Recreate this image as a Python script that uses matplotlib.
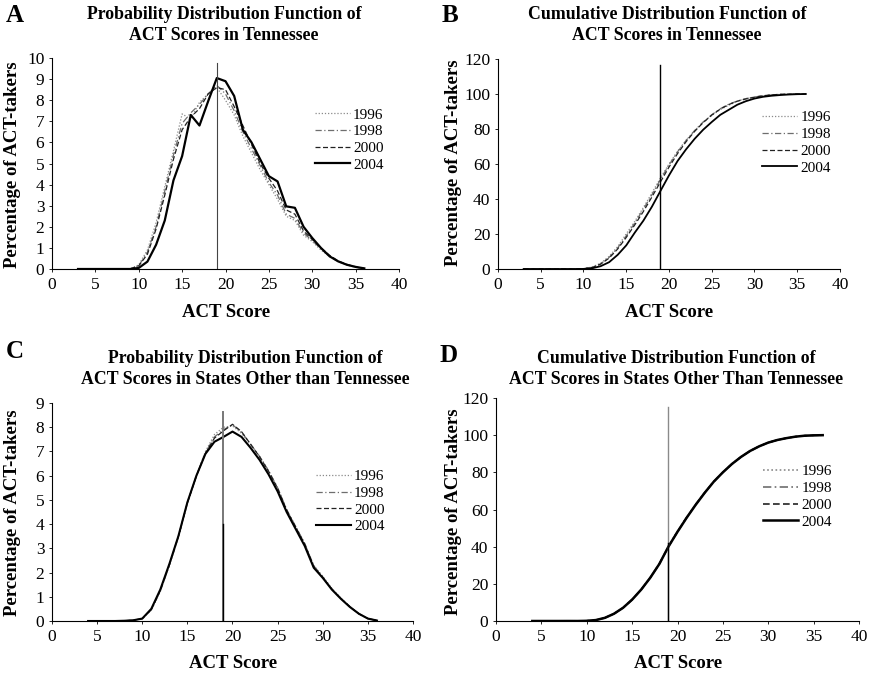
import numpy as np
import matplotlib
matplotlib.use("Agg")
import matplotlib.pyplot as plt

plt.rcParams['font.family'] = ['Liberation Serif', 'DejaVu Serif']

W, H = 870, 677
years = ["1996", "1998", "2000", "2004"]

# Panel A: PDF Tennessee (x = 3..36)
x_tn = list(range(3, 37))
zeros7 = [0] * 7
pdf_tn = {
    "1996": zeros7 + [0.2, 0.9, 2.2, 3.9, 5.6, 7.35, 7.1, 7.9, 8.3, 8.6, 8.0, 7.3, 6.3, 5.5,
                      4.7, 4.0, 3.3, 2.5, 2.3, 1.6, 1.3, 0.9, 0.6, 0.35, 0.2, 0.08, 0.02],
    "1998": zeros7 + [0.15, 0.8, 2.0, 3.7, 5.4, 6.9, 7.4, 7.8, 8.3, 8.7, 8.3, 7.5, 6.5, 5.7,
                      4.9, 4.1, 3.5, 2.6, 2.4, 1.7, 1.35, 0.95, 0.6, 0.35, 0.2, 0.08, 0.02],
    "2000": zeros7 + [0.15, 0.7, 1.9, 3.5, 5.2, 6.6, 7.2, 7.6, 8.3, 8.6, 8.5, 7.7, 6.8, 5.9,
                      5.0, 4.3, 3.7, 2.8, 2.6, 1.8, 1.4, 1.0, 0.65, 0.38, 0.22, 0.1, 0.03],
    "2004": zeros7 + [0.05, 0.35, 1.15, 2.3, 4.2, 5.35, 7.3, 6.8, 7.95, 9.05, 8.9, 8.2, 6.6, 6.0,
                      5.2, 4.4, 4.15, 2.97, 2.9, 2.0, 1.47, 1.0, 0.6, 0.36, 0.2, 0.1, 0.03],
}

# Panel B: CDF Tennessee
cdf_tn = {
    "1996": zeros7 + [0.2, 1.1, 3.3, 7.2, 12.8, 20.1, 27.2, 35.1, 43.4, 52.0, 60.0, 67.3, 73.6, 79.1,
                      83.8, 87.8, 91.1, 93.6, 95.9, 97.5, 98.0, 98.9, 99.5, 99.8, 99.9, 100, 100],
    "1998": zeros7 + [0.15, 0.95, 2.95, 6.65, 12.05, 18.95, 26.35, 34.15, 42.45, 51.15, 59.45, 66.95,
                      73.45, 79.15, 84.05, 88.15, 91.6, 94.2, 96.0, 97.3, 98.3, 99.0, 99.5, 99.8,
                      99.9, 100, 100],
    "2000": zeros7 + [0.15, 0.85, 2.75, 6.25, 11.45, 18.05, 25.25, 32.85, 41.15, 49.75, 58.25, 65.95,
                      72.75, 78.65, 83.65, 87.95, 91.4, 94.0, 95.9, 97.2, 98.2, 99.0, 99.5, 99.8,
                      99.9, 100, 100],
    "2004": zeros7 + [0.05, 0.4, 1.6, 3.9, 8.1, 13.5, 20.8, 27.6, 35.6, 44.6, 53.5, 61.7, 68.4, 74.4,
                      79.6, 84.0, 88.1, 91.0, 93.9, 95.9, 97.4, 98.4, 99.0, 99.4, 99.7, 99.9, 100],
}

# Panel C: PDF other states (x = 4..36)
x_ot = list(range(4, 37))
z5 = [0, 0, 0, 0, 0.01]
pdf_ot = {
    "1996": z5 + [0.03, 0.1, 0.45, 1.22, 2.28, 3.45, 4.85, 6.0, 7.0, 7.7, 8.0, 8.05, 7.75, 7.3,
                  6.8, 6.2, 5.5, 4.6, 3.9, 3.2, 2.3, 1.85, 1.35, 0.95, 0.6, 0.3, 0.1, 0.02],
    "1998": z5 + [0.03, 0.1, 0.46, 1.24, 2.3, 3.47, 4.87, 6.0, 6.95, 7.6, 7.9, 8.1, 7.8, 7.3,
                  6.8, 6.2, 5.5, 4.6, 3.9, 3.2, 2.28, 1.82, 1.33, 0.94, 0.6, 0.3, 0.1, 0.02],
    "2000": z5 + [0.03, 0.1, 0.47, 1.26, 2.32, 3.48, 4.88, 5.98, 6.92, 7.55, 7.85, 8.12, 7.82, 7.3,
                  6.78, 6.18, 5.48, 4.58, 3.88, 3.18, 2.25, 1.8, 1.32, 0.93, 0.59, 0.3, 0.1, 0.02],
    "2004": z5 + [0.03, 0.1, 0.5, 1.3, 2.35, 3.5, 4.9, 6.0, 6.9, 7.4, 7.6, 7.82, 7.6, 7.15,
                  6.65, 6.05, 5.35, 4.5, 3.8, 3.1, 2.2, 1.78, 1.3, 0.92, 0.58, 0.3, 0.1, 0.02],
}

# Panel D: CDF other states
cdf_ot = {
    "1996": z5 + [0.0, 0.1, 0.5, 1.7, 3.9, 7.1, 11.5, 16.9, 23.4, 30.9, 40.3, 48.3, 55.8, 62.8,
                  69.2, 75.1, 80.1, 84.5, 88.3, 91.5, 94.0, 96.0, 97.4, 98.4, 99.2, 99.7, 99.9, 100],
    "1998": z5 + [0.0, 0.1, 0.5, 1.7, 3.9, 7.1, 11.5, 16.9, 23.3, 30.8, 40.1, 48.2, 55.7, 62.7,
                  69.1, 75.0, 80.0, 84.5, 88.3, 91.5, 94.0, 96.0, 97.4, 98.4, 99.2, 99.7, 99.9, 100],
    "2000": z5 + [0.0, 0.1, 0.5, 1.7, 3.9, 7.1, 11.5, 16.9, 23.3, 30.7, 40.0, 48.0, 55.6, 62.6,
                  69.0, 75.0, 80.0, 84.5, 88.3, 91.5, 94.0, 96.0, 97.4, 98.4, 99.2, 99.7, 99.9, 100],
    "2004": z5 + [0.0, 0.1, 0.5, 1.7, 3.9, 7.1, 11.5, 16.9, 23.3, 30.7, 40.0, 48.0, 55.5, 62.5,
                  69.0, 75.0, 80.0, 84.5, 88.3, 91.5, 94.0, 96.0, 97.4, 98.4, 99.2, 99.7, 99.9, 100],
}

styles = {
    "1996": dict(color="#8a8a8a", linestyle=(0, (1, 1.5))),
    "1998": dict(color="#6e6e6e", linestyle=(0, (5, 2, 1, 2))),
    "2000": dict(color="#222222", linestyle=(0, (4, 2))),
    "2004": dict(color="black", linestyle="-"),
}


def px_axes(l, t, r, b):
    return fig.add_axes([l / W, 1 - b / H, (r - l) / W, (b - t) / H])


def ftext(x, y, s, **kw):
    fig.text(x / W, 1 - y / H, s, ha="center", va="center", **kw)


def setup(ax, ymax, yticks):
    ax.set_xlim(0, 40)
    ax.set_ylim(0, ymax)
    ax.set_xticks(range(0, 41, 5))
    ax.set_yticks(yticks)
    for s in ["top", "right"]:
        ax.spines[s].set_visible(False)
    ax.spines["left"].set_linewidth(0.8)
    ax.spines["bottom"].set_linewidth(0.8)
    ax.tick_params(direction="out", length=2.5, width=0.6, labelsize=12.5, pad=3)


def draw(ax, x, data, lw_solid, lw_other):
    for y in years:
        lw = lw_solid if y == "2004" else lw_other
        ax.plot(x, data[y], lw=lw, label=y, **styles[y])


lkw = dict(loc="upper left", frameon=False, fontsize=11, handlelength=2.3,
           handletextpad=0.2, labelspacing=0.2, borderpad=0)

fig = plt.figure(figsize=(W / 100, H / 100), dpi=100)

# A
axA = px_axes(52, 58, 399, 269)
setup(axA, 10, range(0, 11))
draw(axA, x_tn, pdf_tn, 1.6, 0.9)
axA.plot([19, 19], [0, 9.75], color="#444444", lw=0.8)
axA.legend(bbox_to_anchor=(0.735, 0.80), **lkw)

# B
axB = px_axes(498, 59, 840, 269)
setup(axB, 120, range(0, 121, 20))
draw(axB, x_tn, cdf_tn, 1.3, 0.9)
axB.plot([19, 19], [0, 116.5], color="black", lw=1.0)
axB.legend(bbox_to_anchor=(0.75, 0.79), **lkw)

# C
axC = px_axes(52, 403, 413, 621)
setup(axC, 9, range(0, 10))
draw(axC, x_ot, pdf_ot, 1.5, 0.9)
axC.plot([19, 19], [0, 8.63], color="#777777", lw=1.4)
axC.plot([19, 19], [0, 4.0], color="black", lw=1.0)
axC.legend(bbox_to_anchor=(0.71, 0.73), **lkw)

# D
axD = px_axes(496, 398, 859, 621)
setup(axD, 120, range(0, 121, 20))
draw(axD, x_ot, cdf_ot, 1.8, 1.2)
axD.plot([19, 19], [0, 115], color="#8a8a8a", lw=1.0)
axD.plot([19, 19], [0, 42], color="black", lw=1.0)
axD.legend(bbox_to_anchor=(0.715, 0.735), **lkw)

# panel letters
for lx, ly, s in [(15, 16, "A"), (450, 16, "B"), (15, 352, "C"), (449, 356, "D")]:
    ftext(lx, ly, s, fontsize=18, fontweight="bold")

# titles
tkw = dict(fontsize=12.8, fontweight="bold", linespacing=1.25)
ftext(224, 25, "Probability Distribution Function of\nACT Scores in Tennessee", **tkw)
ftext(667, 25, "Cumulative Distribution Function of\nACT Scores in Tennessee", **tkw)
ftext(245, 369, "Probability Distribution Function of\nACT Scores in States Other than Tennessee", **tkw)
ftext(676, 369, "Cumulative Distribution Function of\nACT Scores in States Other Than Tennessee", **tkw)

# axis labels
xkw = dict(fontsize=13.5, fontweight="bold")
ftext(226, 313, "ACT Score", **xkw)
ftext(669, 313, "ACT Score", **xkw)
ftext(233, 664, "ACT Score", **xkw)
ftext(678, 664, "ACT Score", **xkw)
ftext(13, 165, "Percentage of ACT-takers", rotation=90, **xkw)
ftext(453, 163, "Percentage of ACT-takers", rotation=90, **xkw)
ftext(13, 513, "Percentage of ACT-takers", rotation=90, **xkw)
ftext(453, 512, "Percentage of ACT-takers", rotation=90, **xkw)

fig.savefig("out.png", dpi=100)
